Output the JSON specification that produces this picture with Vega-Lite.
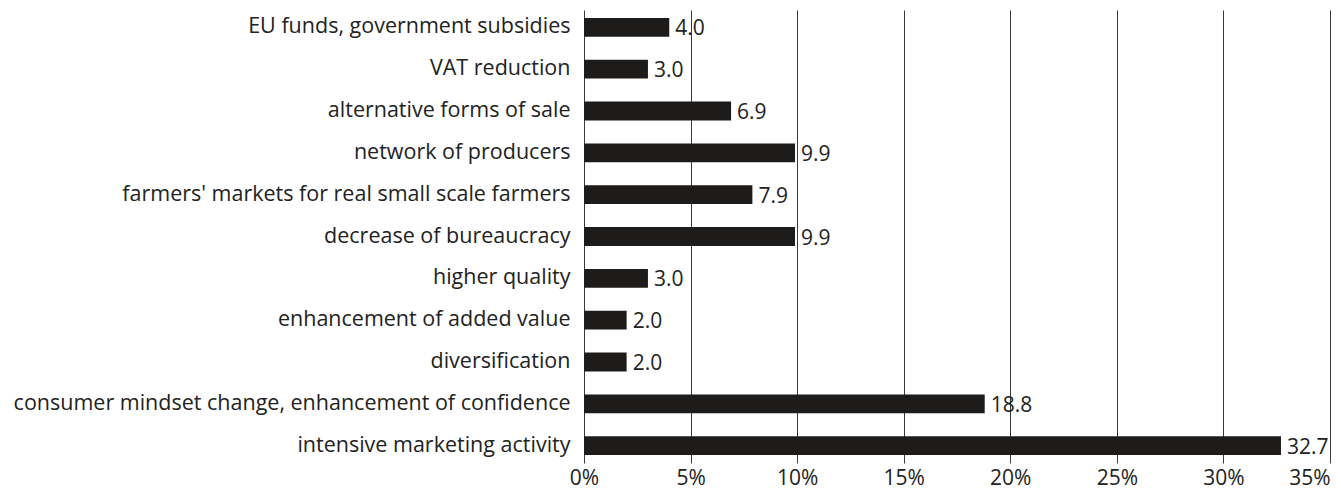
{
  "$schema": "https://vega.github.io/schema/vega-lite/v6.json",
  "autosize": "none",
  "padding": {"left": 584, "top": 10, "right": 11, "bottom": 26},
  "width": 746,
  "height": 453,
  "background": "white",
  "config": {"view": {"stroke": null}, "font": "Open Sans"},
  "data": {"values": [
    {"measure": "EU funds, government subsidies", "pct": 4.0},
    {"measure": "VAT reduction", "pct": 3.0},
    {"measure": "alternative forms of sale", "pct": 6.9},
    {"measure": "network of producers", "pct": 9.9},
    {"measure": "farmers' markets for real small scale farmers", "pct": 7.9},
    {"measure": "decrease of bureaucracy", "pct": 9.9},
    {"measure": "higher quality", "pct": 3.0},
    {"measure": "enhancement of added value", "pct": 2.0},
    {"measure": "diversification", "pct": 2.0},
    {"measure": "consumer mindset change, enhancement of confidence", "pct": 18.8},
    {"measure": "intensive marketing activity", "pct": 32.7}
  ]},
  "encoding": {
    "y": {"field": "measure", "type": "nominal", "sort": null,
      "scale": {"paddingInner": 0.55, "paddingOuter": 0.19},
      "axis": {"title": null, "domain": false, "ticks": false, "labelPadding": 14,
        "labelFontSize": 21.5, "labelColor": "#222222", "labelFont": "Open Sans", "labelLimit": 700}},
    "x": {"field": "pct", "type": "quantitative",
      "scale": {"domain": [0, 35], "nice": false},
      "axis": {"title": null, "values": [0,5,10,15,20,25,30,35], "labelExpr": "datum.value + '%'",
        "domain": false, "ticks": false, "grid": true, "gridColor": "#3a3a3a", "gridOpacity": 1, "gridWidth": 1,
        "labelPadding": 4, "labelFontSize": 21, "labelColor": "#222222", "labelFont": "Open Sans", "labelFlush": false,
        "labelAlign": {"condition": {"test": "datum.value == 35", "value": "right"}, "value": "center"}}}
  },
  "layer": [
    {"mark": {"type": "bar", "color": "#1e1c1b"}},
    {"mark": {"type": "text", "align": "left", "baseline": "middle", "dx": 6, "dy": 2, "fontSize": 21, "color": "#222222", "font": "Open Sans"},
      "encoding": {"text": {"field": "pct", "type": "quantitative", "format": ".1f"}}}
  ]
}
